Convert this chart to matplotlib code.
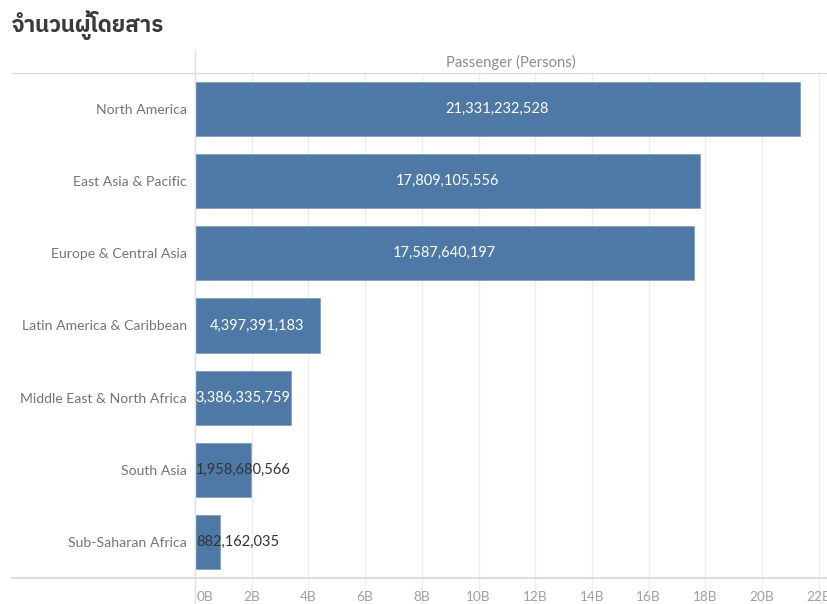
import matplotlib
matplotlib.use("Agg")
import matplotlib.pyplot as plt
from matplotlib import font_manager
from matplotlib.ft2font import FT2Font
from matplotlib.lines import Line2D
import matplotlib.transforms as mtransforms

# ---- data ----
regions = [
    "North America",
    "East Asia & Pacific",
    "Europe & Central Asia",
    "Latin America & Caribbean",
    "Middle East & North Africa",
    "South Asia",
    "Sub-Saharan Africa",
]
passengers = [
    21331232528,
    17809105556,
    17587640197,
    4397391183,
    3386335759,
    1958680566,
    882162035,
]
tick_values = [0, 2, 4, 6, 8, 10, 12, 14, 16, 18, 20, 22]
tick_labels = [f"{v}B" for v in tick_values]
title = "จำนวนผู้โดยสาร"
axis_title = "Passenger (Persons)"

BAR_COLOR = "#4e79a7"


def family_with(char, prefer=("Thai",)):
    """Return an installed family name that has a glyph for `char`."""
    hits = []
    for f in font_manager.fontManager.ttflist:
        try:
            if ord(char) in FT2Font(f.fname).get_charmap():
                hits.append(f.name)
        except Exception:
            continue
    for p in prefer:
        for h in hits:
            if p in h:
                return h
    return hits[0] if hits else None


thai_family = family_with("จ")
title_families = [thai_family, "DejaVu Sans"] if thai_family else ["DejaVu Sans"]

plt.rcParams["font.family"] = ["Lato", "DejaVu Sans"]

W, H = 827, 604
fig = plt.figure(figsize=(W / 100, H / 100), dpi=100)
fig.patch.set_facecolor("white")

# pixel geometry of the plotting area
x0, x1 = 195, 827
y_top, y_bot = 73, 578
ax = fig.add_axes([x0 / W, 1 - y_bot / H, (x1 - x0) / W, (y_bot - y_top) / H])
ax.set_facecolor("none")

n = len(regions)
ypos = list(range(n))
bars = ax.barh(ypos, passengers, height=0.75, color=BAR_COLOR,
               edgecolor="#7b9cc2", linewidth=0.5, zorder=3)

xmax = 22.29e9
ax.set_xlim(0, xmax)
ax.set_ylim(n - 0.5, -0.5)

for s in ax.spines.values():
    s.set_visible(False)
ax.set_xticks([])
ax.set_yticks(ypos)
ax.set_yticklabels(regions, fontsize=10.1, color="#747474")
ax.tick_params(axis="y", length=0, pad=6)

# vertical gridlines, running down through the tick-label strip
trans = mtransforms.blended_transform_factory(ax.transData, ax.transAxes)
for v in tick_values[1:]:
    ax.add_line(Line2D([v * 1e9, v * 1e9], [-0.052, 1.0], transform=trans,
                       color="#eeeeee", lw=1.0, zorder=1, clip_on=False))

# x tick labels below the bottom rule
for v, lab in zip(tick_values, tick_labels):
    ax.text(v * 1e9, -0.038, lab, transform=trans, ha="left" if v == 0 else "center",
            va="center", fontsize=9.8, color="#a0a0a0")
# nudge the first label just right of the zero line
ax.texts[0].set_x(0.07e9)

# frame lines
fig.add_artist(Line2D([12 / W, 1], [1 - y_top / H] * 2, color="#dcdcdc", lw=1.0))
fig.add_artist(Line2D([12 / W, 1], [1 - y_bot / H] * 2, color="#d6d6d6", lw=1.2))
fig.add_artist(Line2D([x0 / W] * 2, [1 - 50 / H, 0], color="#e0e0e0", lw=1.0))

# axis header and title
fig.text((x0 + x1) / 2 / W, 1 - 62 / H, axis_title, ha="center", va="center",
         fontsize=10.6, color="#8c8c8c")
fig.text(12 / W, 1 - 25 / H, title, ha="left", va="center", fontsize=16,
         fontweight="bold", color="#3a3a3a", family=title_families)

# value labels
fig.canvas.draw()
renderer = fig.canvas.get_renderer()
px_per_unit = (x1 - x0) / xmax
for y, v in zip(ypos, passengers):
    label = f"{v:,}"
    t = ax.text(v / 2, y, label, ha="center", va="center", fontsize=10.5,
                color="white", zorder=4)
    width_px = t.get_window_extent(renderer).width
    bar_px = v * px_per_unit
    if width_px > bar_px * 1.04:
        # too wide for the bar: anchor at the bar start, dark text
        t.set_horizontalalignment("left")
        t.set_x(0.03e9)
        t.set_color("#333333")

fig.savefig("out.png", dpi=100, facecolor="white")
